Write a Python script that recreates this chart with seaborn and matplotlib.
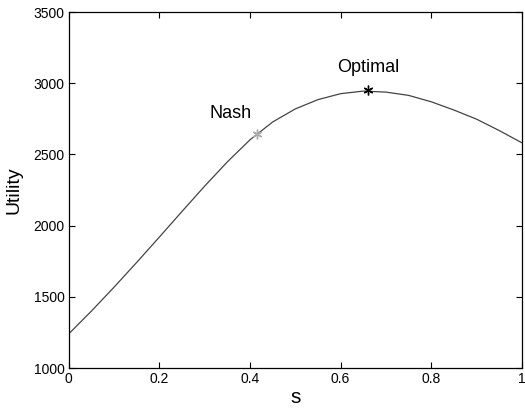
import matplotlib
matplotlib.use("Agg")
import matplotlib.pyplot as plt
import seaborn as sns
import pandas as pd

s_values = [0.00, 0.05, 0.10, 0.15, 0.20, 0.25, 0.30, 0.35, 0.40, 0.45, 0.50,
            0.55, 0.60, 0.65, 0.70, 0.75, 0.80, 0.85, 0.90, 0.95, 1.00]
utility = [1240, 1400, 1568, 1742, 1920, 2100, 2278, 2448, 2603, 2728, 2820,
           2885, 2927, 2945, 2938, 2915, 2870, 2812, 2748, 2668, 2582]
nash_s, nash_u = [0.415], [2641]
opt_s, opt_u = [0.66], [2950]

sns.set_theme(style="white")
plt.rcParams['font.family'] = ['Liberation Sans', 'DejaVu Sans']
plt.rcParams['text.color'] = 'black'
plt.rcParams['axes.labelcolor'] = 'black'
plt.rcParams['xtick.color'] = 'black'
plt.rcParams['ytick.color'] = 'black'

df = pd.DataFrame({"s": s_values, "Utility": utility})

fig = plt.figure(figsize=(5.25, 4.11), dpi=100)
ax = fig.add_axes([0.131, 0.1046, 0.863, 0.866])

sns.lineplot(data=df, x="s", y="Utility", ax=ax, color="#444444", linewidth=0.9)
ax.plot(nash_s, nash_u, marker=(6, 2, 0), color="#aaaaaa", markersize=7, markeredgewidth=1.0, linestyle="none")
ax.plot(opt_s, opt_u, marker=(6, 2, 0), color="black", markersize=7, markeredgewidth=1.0, linestyle="none")

ax.text(0.357, 2730, "Nash", fontsize=13, ha="center", va="bottom", color="black")
ax.text(0.66, 3050, "Optimal", fontsize=13, ha="center", va="bottom", color="black")

ax.set_xlim(0, 1)
ax.set_ylim(1000, 3500)
ax.set_xticks([0, 0.2, 0.4, 0.6, 0.8, 1])
ax.set_xticklabels(["0", "0.2", "0.4", "0.6", "0.8", "1"])
ax.set_yticks([1000, 1500, 2000, 2500, 3000, 3500])
ax.tick_params(axis="both", which="both", direction="in", length=4, width=0.8,
               labelsize=10, top=True, right=True, bottom=True, left=True, pad=3,
               colors="black")
for sp in ax.spines.values():
    sp.set_color("black")
    sp.set_linewidth(0.9)
ax.set_xlabel("s", fontsize=15, labelpad=1, color="black")
ax.set_ylabel("Utility", fontsize=14, labelpad=8, color="black")

fig.savefig("out.png", dpi=100)
